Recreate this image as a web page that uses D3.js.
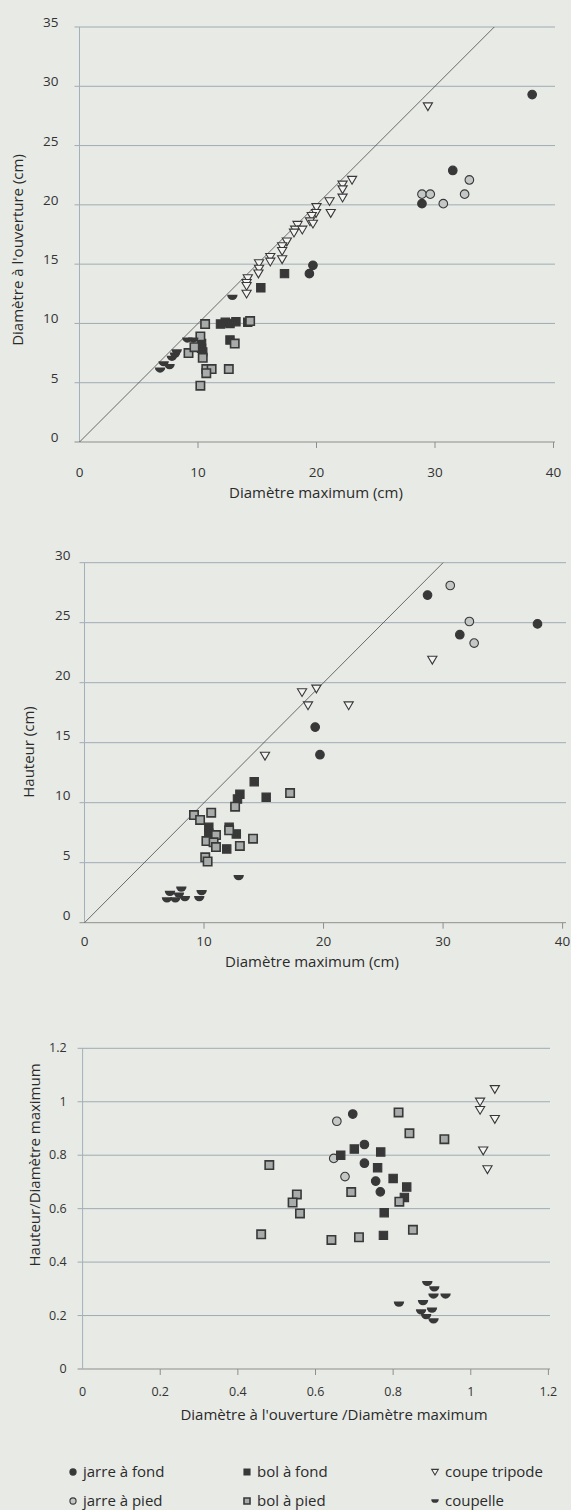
<!DOCTYPE html>
<html>
<head>
<meta charset="utf-8">
<script src="https://cdn.jsdelivr.net/npm/d3@7"></script>
<style>
  body { margin: 0; background: #e8eae6; }
  svg { display: block; font-family: "Open Sans", sans-serif; }
</style>
</head>
<body>
<script>
"use strict";

// ---- data ----
// panel 1 : diamètre à l'ouverture vs diamètre maximum (cm)
var p1JarreFond = [[38.2,29.3],[31.5,22.9],[28.9,20.1],[19.7,14.9],[19.4,14.2]];
var p1JarrePied = [[28.9,20.9],[29.6,20.9],[30.7,20.1],[32.5,20.9],[32.9,22.1]];
var p1BolFond = [[17.3,14.2],[15.3,13.0],[11.9,9.95],[12.3,10.1],[12.7,10.0],[13.2,10.15],[14.2,10.1],
	[12.7,8.6],[10.3,8.3],[10.3,7.9],[10.4,7.6]];
var p1BolPied = [[10.6,9.95],[14.4,10.2],[13.1,8.3],[9.2,7.5],[9.7,8.0],[10.2,8.9],[10.4,7.1],
	[10.7,6.15],[11.15,6.15],[10.7,5.8],[12.6,6.15],[10.2,4.75]];
var p1Tripode = [[29.4,28.3],[23.0,22.1],[22.2,21.7],[22.2,21.3],[22.2,20.6],[21.1,20.3],[21.2,19.3],
	[20.0,19.8],[19.96,19.3],[19.6,19.05],[19.45,18.6],[19.7,18.4],[18.4,18.3],[18.2,17.9],[18.8,17.9],
	[18.1,17.65],[17.5,16.9],[17.1,16.5],[17.1,16.1],[16.1,15.6],[16.1,15.2],[17.1,15.4],[15.15,15.07],
	[15.15,14.6],[15.1,14.2],[14.2,13.8],[14.1,13.4],[14.1,13.15],[14.1,12.5]];
var p1Coupelle = [[12.9,12.2],[6.8,6.07],[7.1,6.6],[7.6,6.35],[7.8,7.06],[8.06,7.33],[8.2,7.6],[9.1,8.6],[9.6,8.6]];

// panel 2 : hauteur vs diamètre maximum (cm)
var p2JarreFond = [[28.7,27.3],[31.4,24.0],[37.9,24.9],[19.3,16.3],[19.7,14.0]];
var p2JarrePied = [[30.6,28.1],[32.2,25.1],[32.6,23.3]];
var p2BolFond = [[14.2,11.75],[13.0,10.7],[12.8,10.3],[15.2,10.45],[10.4,7.95],[10.4,7.45],[12.1,7.95],
	[12.7,7.4],[11.9,6.15]];
var p2BolPied = [[17.2,10.8],[12.6,9.67],[10.6,9.17],[9.16,8.97],[9.67,8.56],[11.0,7.3],[12.1,7.7],
	[10.2,6.8],[10.8,6.7],[11.0,6.3],[13.0,6.4],[14.1,7.0],[10.1,5.45],[10.3,5.1]];
var p2Tripode = [[29.1,21.9],[19.4,19.5],[18.2,19.2],[18.7,18.1],[22.1,18.1],[15.1,13.9]];
var p2Coupelle = [[12.9,3.75],[7.15,2.45],[8.1,2.8],[7.9,2.3],[6.9,1.9],[7.6,1.9],[8.4,2.0],[9.8,2.5],[9.6,2.0]];

// panel 3 : hauteur/diamètre max vs ouverture/diamètre max
var p3JarreFond = [[0.696,0.954],[0.726,0.84],[0.726,0.77],[0.755,0.703],[0.767,0.663]];
var p3JarrePied = [[0.655,0.927],[0.647,0.788],[0.676,0.72]];
var p3BolFond = [[0.70,0.823],[0.768,0.812],[0.665,0.80],[0.76,0.753],[0.80,0.713],[0.835,0.681],
	[0.829,0.642],[0.777,0.585],[0.775,0.50]];
var p3BolPied = [[0.814,0.96],[0.842,0.882],[0.932,0.86],[0.481,0.763],[0.692,0.662],[0.552,0.653],
	[0.816,0.626],[0.541,0.623],[0.56,0.582],[0.46,0.504],[0.641,0.483],[0.712,0.493],[0.851,0.521]];
var p3Tripode = [[1.062,1.047],[1.024,1.0],[1.024,0.969],[1.062,0.935],[1.032,0.817],[1.043,0.747]];
var p3Coupelle = [[0.888,0.32],[0.906,0.30],[0.904,0.273],[0.935,0.273],[0.815,0.243],[0.877,0.248],
	[0.90,0.22],[0.872,0.214],[0.885,0.196],[0.904,0.18]];

var ticksCm40 = [0,10,20,30,40];
var ticksCm35 = [0,5,10,15,20,25,30,35];
var ticksCm30 = [0,5,10,15,20,25,30];
var ticksRatio = [0,0.2,0.4,0.6,0.8,1,1.2];
var ratioLabels = ["0","0.2","0.4","0.6","0.8","1","1.2"];

var seriesNames = ["jarre à fond","jarre à pied","bol à fond","bol à pied","coupe tripode","coupelle"];

// ---- marker look ----
var dark = "#383838";
function markerPath(kind, k) {
	k = k || 1;
	if (kind === 0 || kind === 1) return d3.symbol(d3.symbolCircle, 58*k*k)();
	if (kind === 2 || kind === 3) return d3.symbol(d3.symbolSquare, 70*k*k)();
	if (kind === 4) return "M"+(-4.6*k)+","+(-3.6*k)+"L"+(4.6*k)+","+(-3.6*k)+"L0,"+(4.2*k)+"Z";
	var r = 5.2*k;
	return "M"+(-r)+","+(-r/2)+"A"+r+","+r+" 0 0 0 "+r+","+(-r/2)+"Z";
}
function markerStyle(sel, kind) {
	var fills = [dark, "#c3c7c5", dark, "#a7acaa", "#f4f5f3", dark];
	sel.attr("fill", fills[kind])
		.attr("stroke", kind === 5 ? "none" : dark)
		.attr("stroke-width", kind === 3 ? 1.6 : 1.1);
}

var svg = d3.select("body").append("svg").attr("width",571).attr("height",1510);
svg.append("rect").attr("width",571).attr("height",1510).attr("fill","#e8eae6");

function drawPanel(cfg) {
	var x = d3.scaleLinear().domain(cfg.xDomain).range(cfg.xRange);
	var y = d3.scaleLinear().domain(cfg.yDomain).range(cfg.yRange);
	var g = svg.append("g");

	// gridlines
	g.selectAll(".grid").data(cfg.yTicks).enter().append("line")
		.attr("x1", x.range()[0]-5).attr("x2", cfg.gridRight)
		.attr("y1", function(d){ return y(d); }).attr("y2", function(d){ return y(d); })
		.attr("stroke", function(d){ return d === 0 ? "#8e8f8e" : "#9fabb3"; })
		.attr("stroke-width", 1);

	// y axis line
	g.append("line").attr("x1", x(0)).attr("x2", x(0))
		.attr("y1", y.range()[1]).attr("y2", y(0))
		.attr("stroke", "#a3b0bb").attr("stroke-width", 1);

	// x ticks
	g.selectAll(".xt").data(cfg.xTicks.slice(1)).enter().append("line")
		.attr("x1", function(d){ return x(d); }).attr("x2", function(d){ return x(d); })
		.attr("y1", y(0)).attr("y2", y(0)+6)
		.attr("stroke", "#8e8f8e");

	// tick labels
	g.selectAll(".xl").data(cfg.xTicks).enter().append("text")
		.attr("x", function(d){ return x(d); }).attr("y", y(0)+cfg.xLabelDy)
		.attr("text-anchor","middle").attr("font-size", cfg.tickSize).attr("fill","#333")
		.text(function(d,i){ return cfg.xLabels ? cfg.xLabels[i] : d; });
	g.selectAll(".yl").data(cfg.yTicks).enter().append("text")
		.attr("x", x(0)-cfg.yLabelGap).attr("y", function(d){ return y(d)+cfg.yLabelDy; })
		.attr("text-anchor","end").attr("font-size", cfg.tickSize).attr("fill","#333")
		.text(function(d,i){ return cfg.yLabels ? cfg.yLabels[i] : d; });

	// titles
	g.append("text").attr("x", cfg.xTitlePos[0]).attr("y", cfg.xTitlePos[1])
		.attr("text-anchor","middle").attr("font-size", cfg.titleSize).attr("fill","#2a2a2a")
		.text(cfg.xTitle);
	g.append("text").attr("transform","translate("+cfg.yTitlePos[0]+","+cfg.yTitlePos[1]+") rotate(-90)")
		.attr("text-anchor","middle").attr("font-size", cfg.titleSize).attr("fill","#2a2a2a")
		.text(cfg.yTitle);

	// diagonal y = x
	if (cfg.diag) {
		g.append("line").attr("x1", x(0)).attr("y1", y(0))
			.attr("x2", x(cfg.diag)).attr("y2", y(cfg.diag))
			.attr("stroke", "#4a4a4a").attr("stroke-width", 0.8);
	}

	// points
	cfg.series.forEach(function(data, kind){
		g.selectAll(".s"+kind).data(data).enter().append("path")
			.attr("d", markerPath(kind, cfg.mk))
			.attr("transform", function(d){ return "translate("+x(d[0])+","+y(d[1])+")"; })
			.call(markerStyle, kind);
	});
}

drawPanel({
	xDomain:[0,40], xRange:[79.5,553.5], yDomain:[0,35], yRange:[442,27], gridRight:555,
	xTicks:ticksCm40, yTicks:ticksCm35, diag:35, tickSize:13.5, titleSize:15,
	xLabelDy:35, yLabelGap:21, yLabelDy:0,
	xTitle:"Diamètre maximum (cm)", xTitlePos:[316,498],
	yTitle:"Diamètre à l'ouverture (cm)", yTitlePos:[23,250],
	series:[p1JarreFond,p1JarrePied,p1BolFond,p1BolPied,p1Tripode,p1Coupelle], mk:1
});
drawPanel({
	xDomain:[0,40], xRange:[84.5,562.6], yDomain:[0,30], yRange:[922.7,562.7], gridRight:566,
	xTicks:ticksCm40, yTicks:ticksCm30, diag:30, tickSize:13.5, titleSize:15,
	xLabelDy:23, yLabelGap:14, yLabelDy:-3,
	xTitle:"Diamètre maximum (cm)", xTitlePos:[312,967],
	yTitle:"Hauteur (cm)", yTitlePos:[34,752],
	series:[p2JarreFond,p2JarrePied,p2BolFond,p2BolPied,p2Tripode,p2Coupelle], mk:1
});
drawPanel({
	xDomain:[0,1.2], xRange:[82.6,548.4], yDomain:[0,1.2], yRange:[1369,1048.3], gridRight:550,
	xTicks:ticksRatio, yTicks:ticksRatio, xLabels:ratioLabels, yLabels:ratioLabels, diag:null,
	tickSize:12.5, titleSize:15, xLabelDy:27, yLabelGap:16, yLabelDy:4,
	xTitle:"Diamètre à l'ouverture /Diamètre maximum", xTitlePos:[334,1420],
	yTitle:"Hauteur/Diamètre maximum", yTitlePos:[40,1165],
	series:[p3JarreFond,p3JarrePied,p3BolFond,p3BolPied,p3Tripode,p3Coupelle], mk:1
});

// legend
var legendCols = [73, 247, 435];
var legendRows = [1472, 1501];
var legend = svg.append("g");
seriesNames.forEach(function(name, i){
	var cx = legendCols[Math.floor(i/2)], cy = legendRows[i%2];
	legend.append("path").attr("d", markerPath(i, 0.72))
		.attr("transform","translate("+cx+","+cy+")").call(markerStyle, i);
	legend.append("text").attr("x", cx+10).attr("y", cy+5)
		.attr("font-size", 15).attr("fill","#2a2a2a").text(name);
});
</script>
</body>
</html>
